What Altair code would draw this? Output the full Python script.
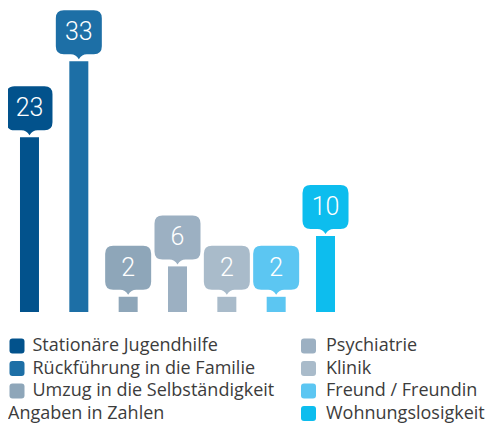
import altair as alt
import pandas as pd

categories = [
    "Stationäre Jugendhilfe",
    "Rückführung in die Familie",
    "Umzug in die Selbständigkeit",
    "Psychiatrie",
    "Klinik",
    "Freund / Freundin",
    "Wohnungslosigkeit",
]
values = [23, 33, 2, 6, 2, 2, 10]
colors = ["#02528c", "#1d6fa6", "#8ea6b9", "#9cb0c2", "#a9bbca", "#5cc6f2", "#0dbdee"]
groups = ["A", "A", "A", "B", "B", "B", "B"]

cat_a = [c for c, g in zip(categories, groups) if g == "A"]
col_a = [c for c, g in zip(colors, groups) if g == "A"]
cat_b = [c for c, g in zip(categories, groups) if g == "B"]
col_b = [c for c, g in zip(colors, groups) if g == "B"]

df = pd.DataFrame({"Kategorie": categories, "Wert": values, "Gruppe": groups})

# label bubble: rounded box with a small pointer at the bottom (pixel design, scaled to unit box)
S = 23.0
pts = [
    ("M", -15, -23), ("L", 15, -23), ("Q", 23, -23, 23, -15), ("L", 23, 13),
    ("Q", 23, 21, 15, 21), ("L", 8, 21), ("Q", 3, 21, 0, 26), ("Q", -3, 21, -8, 21),
    ("L", -15, 21), ("Q", -23, 21, -23, 13), ("L", -23, -15), ("Q", -23, -23, -15, -23),
]
bubble = " ".join(p[0] + " " + " ".join(f"{v / S:.4f}" for v in p[1:]) for p in pts) + " Z"
rounded_sq = "M -0.6 -1 L 0.6 -1 Q 1 -1 1 -0.6 L 1 0.6 Q 1 1 0.6 1 L -0.6 1 Q -1 1 -1 0.6 L -1 -0.6 Q -1 -1 -0.6 -1 Z"

FONT = "Open Sans"
TXT = "#3c3c3c"
W, H = 339, 304

x = alt.X("Kategorie:N", sort=categories, axis=None,
          scale=alt.Scale(domain=categories, paddingInner=0.615, paddingOuter=0.243))
y = alt.Y("Wert:Q", axis=None, scale=alt.Scale(domain=[0, 40], nice=False))

common_legend = dict(
    orient="none", legendY=329, padding=0,
    labelFont=FONT, labelFontSize=18, labelColor=TXT, labelLimit=320,
    symbolType=rounded_sq, symbolSize=225, symbolStrokeWidth=0, rowPadding=4.5,
)

bars_a = alt.Chart(df).transform_filter(alt.datum.Gruppe == "A").mark_bar().encode(
    x=x, y=y,
    color=alt.Color("Kategorie:N", sort=cat_a, scale=alt.Scale(domain=cat_a, range=col_a),
                    legend=alt.Legend(legendX=0, labelOffset=6.5, title="Angaben in Zahlen",
                                      titleOrient="bottom", titleAnchor="start", titleFont=FONT,
                                      titleFontSize=18, titleFontWeight="normal", titleColor=TXT,
                                      titlePadding=5, titleLimit=320, **common_legend)),
)
bars_b = alt.Chart(df).transform_filter(alt.datum.Gruppe == "B").mark_bar().encode(
    x=x, y=y,
    color=alt.Color("Kategorie:N", sort=cat_b, scale=alt.Scale(domain=cat_b, range=col_b),
                    legend=alt.Legend(legendX=291.5, labelOffset=8.5, title=None, **common_legend)),
)
boxes = alt.Chart(df).mark_point(shape=bubble, size=S * S * 4, filled=True, opacity=1,
                                 strokeWidth=0, yOffset=-28).encode(
    x=x, y=y,
    color=alt.Color("Kategorie:N", scale=alt.Scale(domain=categories, range=colors), legend=None),
)
labels = alt.Chart(df).mark_text(color="white", fontSize=25, font="Roboto", fontWeight=300,
                                 baseline="middle", yOffset=-29).encode(
    x=x, y=y, text=alt.Text("Wert:Q"),
)

chart = alt.layer(bars_a, bars_b, boxes, labels).resolve_scale(color="independent").properties(
    width=W, height=H,
    autosize=alt.AutoSizeParams(type="none"),
    padding={"left": 0, "top": 0, "right": 480 - W, "bottom": 416 - H},
).configure_view(stroke=None)

chart.save("out.html", embed_options={"renderer": "svg", "actions": False})
